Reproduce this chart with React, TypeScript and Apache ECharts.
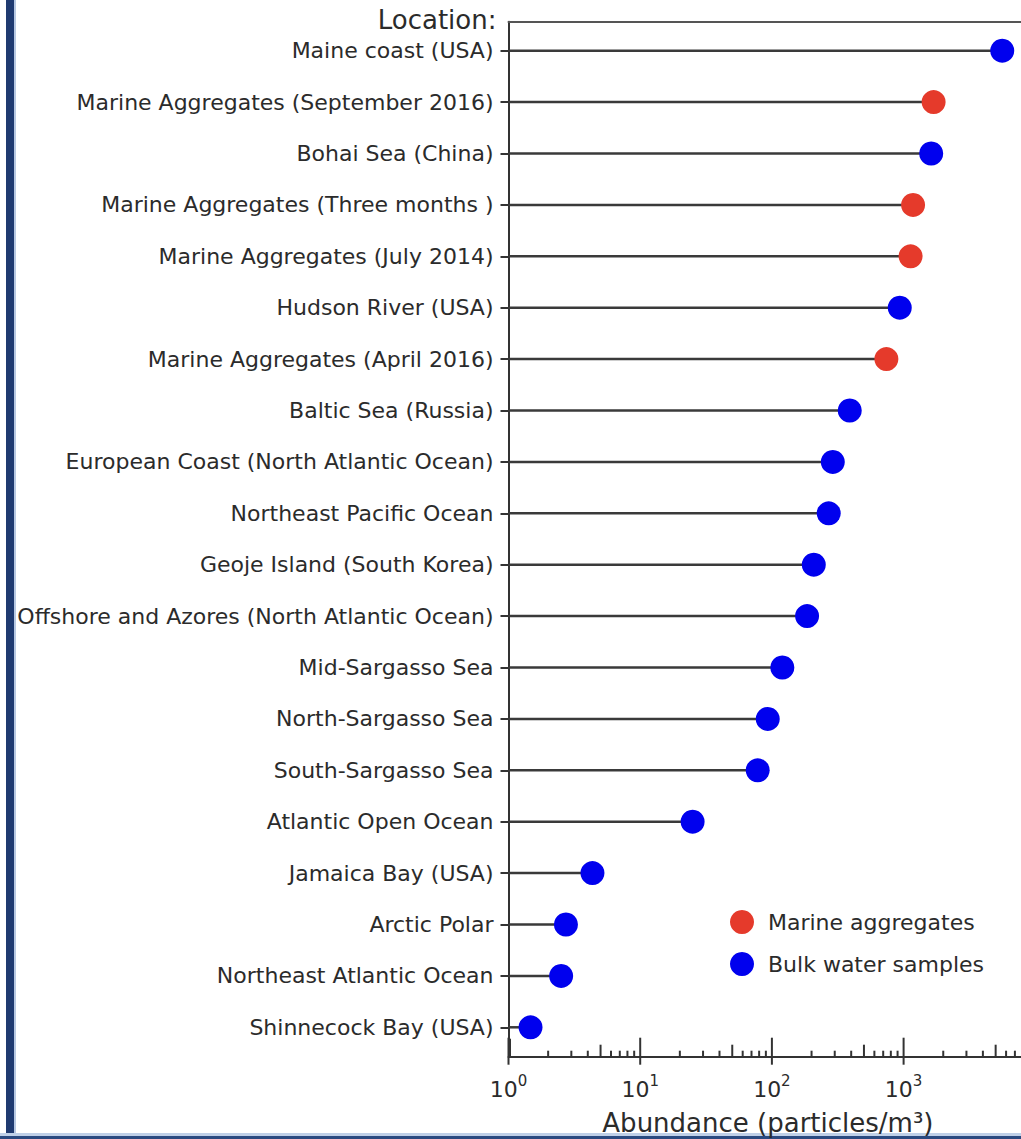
import React, { useEffect, useRef } from "react";
import * as echarts from "echarts";

const locations: string[] = [
  "Maine coast (USA)",
  "Marine Aggregates (September 2016)",
  "Bohai Sea (China)",
  "Marine Aggregates (Three months )",
  "Marine Aggregates (July 2014)",
  "Hudson River (USA)",
  "Marine Aggregates (April 2016)",
  "Baltic Sea (Russia)",
  "European Coast (North Atlantic Ocean)",
  "Northeast Pacific Ocean",
  "Geoje Island (South Korea)",
  "Offshore and Azores (North Atlantic Ocean)",
  "Mid-Sargasso Sea",
  "North-Sargasso Sea",
  "South-Sargasso Sea",
  "Atlantic Open Ocean",
  "Jamaica Bay (USA)",
  "Arctic Polar",
  "Northeast Atlantic Ocean",
  "Shinnecock Bay (USA)",
];

const abundance: number[] = [
  5610, 1690, 1620, 1180, 1130, 935, 740, 390, 290, 270, 208, 185, 120, 93, 78,
  25, 4.34, 2.73, 2.51, 1.47,
];

const sampleType: string[] = [
  "bulk", "marine", "bulk", "marine", "marine", "bulk", "marine", "bulk", "bulk",
  "bulk", "bulk", "bulk", "bulk", "bulk", "bulk", "bulk", "bulk", "bulk", "bulk",
  "bulk",
];

const seriesNames = { marine: "Marine aggregates", bulk: "Bulk water samples" };
const majorTicks: number[] = [1, 10, 100, 1000, 10000];
const minorMultipliers: number[] = [2, 3, 4, 5, 6, 7, 8, 9];

const FONT = "'DejaVu Sans', sans-serif";
const TEXT = "#2b2b2b";
const AXIS = "#333333";

export default function App() {
  const ref = useRef<HTMLDivElement>(null);

  useEffect(() => {
    if (!ref.current) return;
    const chart = echarts.init(ref.current, undefined, { renderer: "svg" });

    const tickData: number[][] = [];
    majorTicks.forEach((m) => {
      tickData.push([m, 0, 1]);
      if (m < 10000) minorMultipliers.forEach((k) => tickData.push([m * k, 0, k === 5 ? 2 : 0]));
    });

    const marineData = abundance
      .map((v, i) => (sampleType[i] === "marine" ? [v, i] : null))
      .filter((d) => d !== null);
    const bulkData = abundance
      .map((v, i) => (sampleType[i] === "bulk" ? [v, i] : null))
      .filter((d) => d !== null);

    const gridLeft = 508.5;
    const gridRight = -14.3;

    chart.setOption({
      animation: false,
      backgroundColor: "#ffffff",
      textStyle: { fontFamily: FONT },
      grid: [
        { left: gridLeft, right: gridRight, top: 21.7, bottom: 82.3, outerBoundsMode: "none", containLabel: false },
        { left: gridLeft, right: gridRight, top: 25, bottom: 86, outerBoundsMode: "none", containLabel: false },
      ],
      xAxis: [
        {
          type: "log",
          logBase: 10,
          gridIndex: 0,
          min: 1,
          max: 10000,
          position: "bottom",
          axisLine: { show: true, lineStyle: { color: AXIS, width: 2 } },
          axisTick: { show: false },
          splitLine: { show: false },
          axisLabel: {
            margin: 17,
            showMaxLabel: false,
            formatter: (v: number) => "{b|10}{sup|" + Math.round(Math.log10(v)) + "}",
            rich: {
              b: { fontSize: 22, fontFamily: FONT, color: TEXT, padding: [5, 0, 0, 0] },
              sup: { fontSize: 15, fontFamily: FONT, color: TEXT, verticalAlign: "top" },
            },
          },
          name: "Abundance (particles/m³)",
          nameLocation: "middle",
          nameGap: 53,
          nameTextStyle: { fontSize: 26, fontFamily: FONT, color: TEXT, padding: [0, 8, 0, 0] },
        },
        {
          type: "value",
          gridIndex: 0,
          min: 0,
          max: 1,
          position: "top",
          axisLine: { show: true, lineStyle: { color: "#555555", width: 2 } },
          axisTick: { show: false },
          axisLabel: { show: false },
          splitLine: { show: false },
        },
        {
          type: "log",
          logBase: 10,
          gridIndex: 1,
          min: 1,
          max: 10000,
          show: false,
          splitLine: { show: false },
        },
      ],
      yAxis: [
        {
          type: "value",
          gridIndex: 0,
          min: 0,
          max: 1,
          axisLine: { show: true, lineStyle: { color: AXIS, width: 2 } },
          axisTick: { show: false },
          axisLabel: { show: false },
          splitLine: { show: false },
          name: "Location:",
          nameLocation: "end",
          nameGap: 2,
          nameTextStyle: {
            fontSize: 26,
            fontFamily: FONT,
            color: TEXT,
            align: "right",
            verticalAlign: "middle",
            padding: [0, 12, 0, 0],
          },
        },
        {
          type: "category",
          gridIndex: 1,
          inverse: true,
          data: locations,
          axisLine: { show: false },
          axisTick: {
            show: true,
            alignWithLabel: true,
            length: 8,
            lineStyle: { color: AXIS, width: 2 },
          },
          axisLabel: { fontSize: 22, fontFamily: FONT, color: TEXT, margin: 15 },
          splitLine: { show: false },
        },
      ],
      legend: {
        orient: "vertical",
        left: 730,
        top: 910,
        padding: 0,
        itemWidth: 24,
        itemHeight: 24,
        itemGap: 18,
        icon: "circle",
        data: [seriesNames.marine, seriesNames.bulk],
        textStyle: { fontSize: 22, fontFamily: FONT, color: TEXT, padding: [0, 0, 0, 9] },
      },
      graphic: [
        { type: "rect", shape: { x: 6, y: 0, width: 8, height: 1139 }, style: { fill: "#1f3a70" }, silent: true },
        { type: "rect", shape: { x: 14, y: 0, width: 2, height: 1139 }, style: { fill: "#b7c8e2" }, silent: true },
        { type: "rect", shape: { x: 0, y: 1133, width: 1021, height: 3 }, style: { fill: "#bfd0e8" }, silent: true },
        { type: "rect", shape: { x: 0, y: 1136, width: 1021, height: 3 }, style: { fill: "#2a4a80" }, silent: true },
      ],
      series: [
        {
          type: "custom",
          name: "stems",
          xAxisIndex: 2,
          yAxisIndex: 1,
          z: 1,
          silent: true,
          data: abundance.map((v, i) => [v, i]),
          renderItem: (params: any, api: any) => {
            const idx = api.value(1);
            const p0 = api.coord([1, idx]);
            const p1 = api.coord([api.value(0), idx]);
            return {
              type: "line",
              shape: { x1: p0[0], y1: p0[1], x2: p1[0], y2: p1[1] },
              style: { stroke: "#3a3a3a", lineWidth: 2.5 },
            };
          },
        },
        {
          type: "custom",
          name: "xticks",
          xAxisIndex: 0,
          yAxisIndex: 0,
          z: 3,
          silent: true,
          data: tickData,
          renderItem: (params: any, api: any) => {
            const x = api.coord([api.value(0), 0])[0];
            const bottom = params.coordSys.y + params.coordSys.height;
            const kind = api.value(2);
            if (kind === 1) {
              const children: any[] = [
                {
                  type: "line",
                  shape: { x1: x, y1: bottom - 19, x2: x, y2: bottom + 8 },
                  style: { stroke: AXIS, lineWidth: 2 },
                },
              ];
              if (api.value(0) === 1) {
                children.push({
                  type: "line",
                  shape: { x1: x + 1, y1: bottom - 18, x2: x + 1, y2: bottom },
                  style: { stroke: AXIS, lineWidth: 3 },
                });
              }
              return { type: "group", children };
            }
            const len = kind === 2 ? 12 : 6;
            return {
              type: "line",
              shape: { x1: x, y1: bottom - len, x2: x, y2: bottom },
              style: { stroke: AXIS, lineWidth: 2 },
            };
          },
        },
        {
          type: "scatter",
          name: seriesNames.marine,
          xAxisIndex: 2,
          yAxisIndex: 1,
          z: 5,
          symbol: "circle",
          symbolSize: 24,
          itemStyle: { color: "#e53a2b", opacity: 1 },
          data: marineData,
        },
        {
          type: "scatter",
          name: seriesNames.bulk,
          xAxisIndex: 2,
          yAxisIndex: 1,
          z: 5,
          symbol: "circle",
          symbolSize: 24,
          itemStyle: { color: "#0000ee", opacity: 1 },
          data: bulkData,
        },
      ],
    });

    return () => chart.dispose();
  }, []);

  return (
    <div
      ref={ref}
      style={{ position: "absolute", left: 0, top: 0, width: 1021, height: 1139 }}
    />
  );
}
